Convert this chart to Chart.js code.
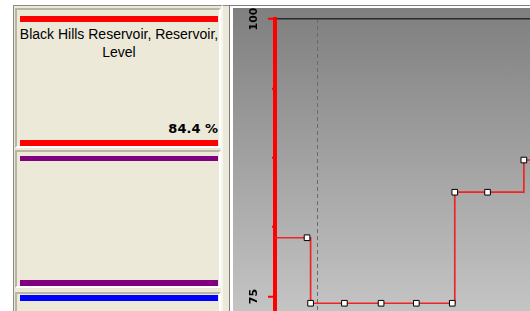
<!DOCTYPE html>
<html>
<head>
<meta charset="utf-8">
<script src="https://cdn.jsdelivr.net/npm/chart.js@4/dist/chart.umd.min.js"></script>
<style>
  html, body { margin: 0; padding: 0; background: #fff; }
  body { width: 530px; height: 311px; overflow: hidden; position: relative; font-family: "Liberation Sans", Arial, sans-serif; }
  .abs { position: absolute; box-sizing: border-box; }
  #side { left: 13px; top: 5px; width: 210px; height: 306px; background: #ece9d8; border-left: 1px solid #8a8a8a; border-top: 1px solid #8a8a8a; border-right: 2px solid #f6f5ee; }
  .card { left: 15px; width: 206px; border-top: 2px solid #b9b5a4; border-left: 2px solid #b9b5a4; border-bottom: 2px solid #fff; border-right: 2px solid #fff; }
  .bar { left: 20px; width: 198px; height: 6px; }
  #title { left: 15px; top: 25px; width: 208px; text-align: center; font-size: 14px; line-height: 18px; color: #000; }
  #pct { left: 100px; top: 121px; width: 118px; text-align: right; font: bold 13px "DejaVu Sans", sans-serif; line-height: 15px; color: #000; }
  #sep { left: 223px; top: 5px; width: 6px; height: 306px; background: #ece9d8; border-top: 1px solid #8a8a8a; }
  #frame { left: 229px; top: 5px; width: 301px; height: 306px; background: #fff; border-left: 1px solid #7c7c7c; border-top: 1px solid #7c7c7c; }
  #plot { left: 233px; top: 8px; width: 297px; height: 303px; overflow: hidden; background: linear-gradient(#7f7f7f, #c4c4c4); }
  #plot canvas { position: absolute; left: 0; top: 0; }
</style>
</head>
<body>
<div id="side" class="abs"></div>
<div class="card abs" style="top:8px;height:140px"></div>
<div class="bar abs" style="top:16px;background:#ff0000"></div>
<div id="title" class="abs">Black Hills Reservoir, Reservoir,<br>Level</div>
<div id="pct" class="abs">84.4 %</div>
<div class="bar abs" style="top:140px;background:#ff0000"></div>
<div class="card abs" style="top:150px;height:138px"></div>
<div class="bar abs" style="top:156px;height:5px;background:#800080"></div>
<div class="bar abs" style="top:280px;background:#800080"></div>
<div class="card abs" style="top:292px;height:30px"></div>
<div class="bar abs" style="top:295px;background:#0000ff"></div>
<div id="sep" class="abs"></div>
<div id="frame" class="abs"></div>
<div id="plot" class="abs"><canvas id="levelChart" width="403" height="436" style="width:403px;height:436px"></canvas></div>

<script>
// readings (hours from the left edge of the view) and reservoir level in %
const readingHours = [-1, 0.9, 1.0, 1.95, 2.98, 3.97, 4.98, 5.05, 5.97, 6.99, 8]
const levelPct = [80.3, 80.3, 74.4, 74.4, 74.4, 74.4, 74.4, 84.4, 84.4, 87.3, 87.3]
const markerHours = [1.18]
const labelledTicks = [75, 100]

const levelPoints = readingHours.map((h, i) => ({ x: h, y: levelPct[i] }))

const configLevel = {
    type: 'line',
    data: {
        datasets: [{
            label: 'Level',
            data: levelPoints,
            stepped: true,
            borderColor: '#f02424',
            borderWidth: 1.7,
            pointStyle: 'rect',
            pointRadius: 4,
            pointBackgroundColor: '#ffffff',
            pointBorderColor: '#000000',
            pointBorderWidth: 1
        }]
    },
    options: {
        responsive: false,
        animation: false,
        events: [],
        layout: { padding: { top: 11, left: 0, right: 0, bottom: 8 } },
        plugins: { legend: { display: false }, tooltip: { enabled: false } },
        scales: {
            x: {
                type: 'linear',
                min: 0,
                max: 10,
                afterBuildTicks: scale => { scale.ticks = markerHours.map(v => ({ value: v })) },
                ticks: { display: false },
                grid: { color: '#6a6a6a', lineWidth: 1, drawTicks: false },
                border: { display: false, dash: [4, 3] }
            },
            y: {
                min: 62.5,
                max: 100,
                afterFit: scale => { scale.width = 42 },
                ticks: {
                    stepSize: 6.25,
                    autoSkip: false,
                    minRotation: 90,
                    maxRotation: 90,
                    crossAlign: 'center',
                    padding: 2,
                    color: '#000',
                    font: { family: 'DejaVu Sans', size: 11, weight: 'bold' },
                    callback: v => labelledTicks.includes(v) ? String(v) : ''
                },
                grid: {
                    color: c => c.tick && c.tick.value === 100 ? '#2b2b2b' : 'rgba(0,0,0,0)',
                    lineWidth: 1.5,
                    tickColor: '#ff0000',
                    tickWidth: 2,
                    tickLength: 7,
                    // minor ticks: only the 3px next to the axis
                    tickBorderDash: c => c.tick && labelledTicks.includes(c.tick.value) ? [] : [3, 4],
                    tickBorderDashOffset: c => c.tick && labelledTicks.includes(c.tick.value) ? 0 : 3
                },
                border: { color: '#ff0000', width: 4 }
            }
        }
    }
}

let levelChart = new Chart(
    document.getElementById('levelChart'),
    configLevel
)
</script>
</body>
</html>
